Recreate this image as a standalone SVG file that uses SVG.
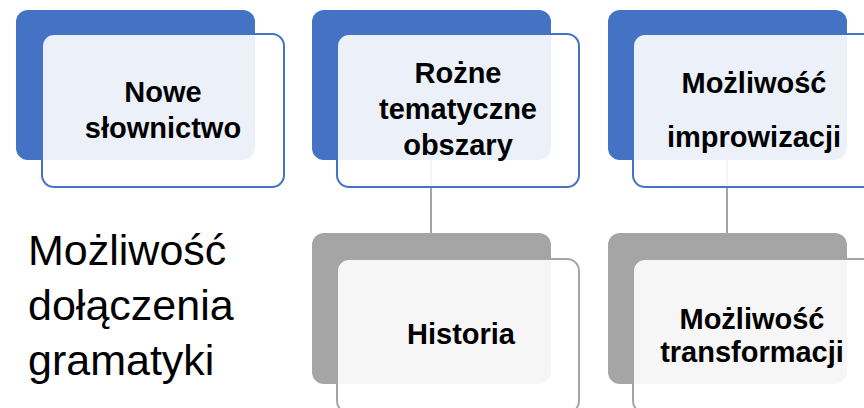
<svg xmlns="http://www.w3.org/2000/svg" width="864" height="408" viewBox="0 0 864 408">
<style>
.bb{fill:#4472C4}
.bg{fill:#A5A5A5}
.fb{fill:#FFFFFF;fill-opacity:0.9;stroke:#4472C4;stroke-width:2}
.fg{fill:#FFFFFF;fill-opacity:0.9;stroke:#A5A5A5;stroke-width:2}
.t{font-family:"Liberation Sans",Arial,sans-serif;font-weight:bold;font-size:29px;fill:#000;text-anchor:middle}
.big{font-family:"Liberation Sans",Arial,sans-serif;font-size:43px;fill:#000}
.c{stroke:#A5A5A5;stroke-width:2;fill:none}
</style>
<rect width="864" height="408" fill="#FFFFFF"/>
<g id="backs">
<rect class="bb" x="16" y="10" width="239" height="150" rx="12"/>
<rect class="bb" x="312" y="10" width="239" height="150" rx="12"/>
<rect class="bb" x="608" y="10" width="239" height="150" rx="12"/>
<rect class="bg" x="312" y="233" width="239" height="151" rx="12"/>
<rect class="bg" x="608" y="233" width="239" height="151" rx="12"/>
</g>
<g id="connectors">
<line class="c" x1="431" y1="160" x2="431" y2="233"/>
<line class="c" x1="727" y1="160" x2="727" y2="233"/>
</g>
<g id="node1">
<rect class="fb" x="42" y="34" width="242" height="153" rx="12"/>
<text class="t" x="163" y="102">Nowe</text>
<text class="t" x="163" y="138">słownictwo</text>
</g>
<g id="node2">
<rect class="fb" x="337" y="34" width="242" height="153" rx="12"/>
<text class="t" x="458" y="83">Rożne</text>
<text class="t" x="458" y="119">tematyczne</text>
<text class="t" x="458" y="155">obszary</text>
</g>
<g id="node3">
<rect class="fb" x="633" y="34" width="242" height="153" rx="12"/>
<text class="t" x="754" y="93">Możliwość</text>
<text class="t" x="754" y="147">improwizacji</text>
</g>
<g id="node4">
<rect class="fg" x="337" y="259" width="242" height="154" rx="12"/>
<text class="t" x="461" y="344">Historia</text>
</g>
<g id="node5">
<rect class="fg" x="633" y="259" width="242" height="154" rx="12"/>
<text class="t" x="752" y="329">Możliwość</text>
<text class="t" x="752" y="362">transformacji</text>
</g>
<g id="left-text">
<text class="big" x="28" y="265">Możliwość</text>
<text class="big" x="28" y="320">dołączenia</text>
<text class="big" x="28" y="375">gramatyki</text>
</g>
</svg>
